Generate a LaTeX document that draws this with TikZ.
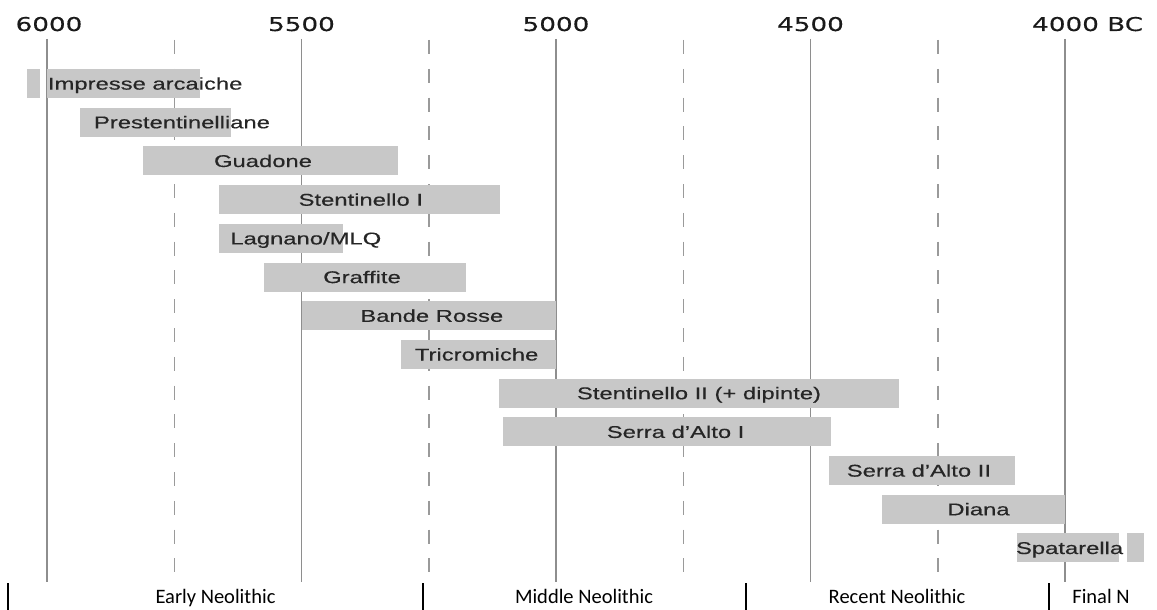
\documentclass[tikz,border=0pt]{standalone}
\usepackage{fontspec}
\newfontfamily\axisfont[FakeStretch=1.38,FakeBold=0.4]{DejaVu Sans}
\newfontfamily\barfont[FakeStretch=1.4,FakeBold=0.4]{Liberation Sans}
\newfontfamily\erafont{Carlito}
\definecolor{barfill}{HTML}{C8C8C8}
\definecolor{gridgray}{HTML}{8E8E8E}
\definecolor{dashgray}{HTML}{9A9A9A}
\definecolor{labelgray}{HTML}{262626}
\definecolor{yeargray}{HTML}{1A1A1A}
\begin{document}
\begin{tikzpicture}[x=1pt,y=-1pt,
  solidline/.style={draw=gridgray, line width=1.3pt},
  dashline/.style={draw=dashgray, line width=1.4pt, dash pattern=on 14pt off 14.8pt},
  period/.style={fill=barfill, draw=none},
  barlabel/.style={font=\barfont\fontsize{17}{17}\selectfont, text=labelgray, inner sep=0pt, text height=12.2pt, text depth=0pt},
  yearlabel/.style={font=\axisfont\fontsize{19}{19}\selectfont, text=yeargray, inner sep=0pt, anchor=base},
  eralabel/.style={font=\erafont\fontsize{20.5}{20.5}\selectfont, text=black, inner sep=0pt, anchor=base},
  sepbar/.style={line width=2pt, draw=black}]
\useasboundingbox (0,0) rectangle (1157,610);

% axis labels
\node[yearlabel] (y6000) at (49,31) {6000};
\node[yearlabel] (y5500) at (301.5,31) {5500};
\node[yearlabel] (y5000) at (556,31) {5000};
\node[yearlabel] (y4500) at (810.5,31) {4500};
\node[yearlabel, anchor=base west] (y4000) at (1032,31) {4000 BC};

% grid lines
\foreach \n/\x in {a/47,b/301.5,c/556,d/810.5,e/1065}{
  \coordinate (s\n top) at (\x,39);
  \coordinate (s\n bot) at (\x,582);
  \draw[solidline] (s\n top) -- (s\n bot);
}
\foreach \n/\x in {a/174.3,b/428.8,c/683.3,d/937.8}{
  \coordinate (d\n top) at (\x,40);
  \coordinate (d\n bot) at (\x,582);
  \draw[dashline] (d\n top) -- (d\n bot);
}

% bars
\fill[period] (26.6,69) rectangle (40.4,98);
\fill[period] (47,69) rectangle (199.7,98);
\fill[period] (80.1,107.7) rectangle (230.7,136.7);
\fill[period] (143.2,146.4) rectangle (397.7,175.4);
\fill[period] (219,185.1) rectangle (499.5,214.1);
\fill[period] (219,223.8) rectangle (343.2,252.8);
\fill[period] (263.8,262.5) rectangle (465.9,291.5);
\fill[period] (301.5,301.2) rectangle (556,330.2);
\fill[period] (401.3,339.9) rectangle (556,368.9);
\fill[period] (499.2,378.6) rectangle (899,407.6);
\fill[period] (502.6,417.3) rectangle (831.4,446.3);
\fill[period] (829.3,456) rectangle (1015.1,485);
\fill[period] (882.3,494.7) rectangle (1065,523.7);
\fill[period] (1017.2,533.4) rectangle (1119,562.4);
\fill[period] (1126.6,533.4) rectangle (1143.9,562.4);

% bar labels
\node[barlabel] (impresse) at (145.2,83.5) {Impresse arcaiche};
\node[barlabel] (prest) at (182,122.2) {Prestentinelliane};
\node[barlabel] (guadone) at (263,160.9) {Guadone};
\node[barlabel] (stentI) at (360.8,199.6) {Stentinello I};
\node[barlabel] (lagnano) at (305.8,238.3) {Lagnano/MLQ};
\node[barlabel] (graffite) at (362,277) {Graffite};
\node[barlabel] (bande) at (431.8,315.7) {Bande Rosse};
\node[barlabel] (tricro) at (476.6,354.4) {Tricromiche};
\node[barlabel] (stentII) at (699,393.1) {Stentinello II (+ dipinte)};
\node[barlabel] (serraI) at (675.6,431.8) {Serra d’Alto I};
\node[barlabel] (serraII) at (918.9,470.5) {Serra d’Alto II};
\node[barlabel] (diana) at (978.5,509.2) {Diana};
\node[barlabel] (spat) at (1069.6,547.9) {Spatarella};

% period separators
\foreach \n/\x in {p1/8,p2/423,p3/745.5,p4/1049}{
  \coordinate (\n top) at (\x,583);
  \coordinate (\n bot) at (\x,610);
  \draw[sepbar] (\n top) -- (\n bot);
}
\node[eralabel] (early) at (215.5,603) {Early Neolithic};
\node[eralabel] (middle) at (584,603) {Middle Neolithic};
\node[eralabel] (recent) at (897,603) {Recent Neolithic};
\node[eralabel] (final) at (1101,603) {Final N};
\end{tikzpicture}
\end{document}
